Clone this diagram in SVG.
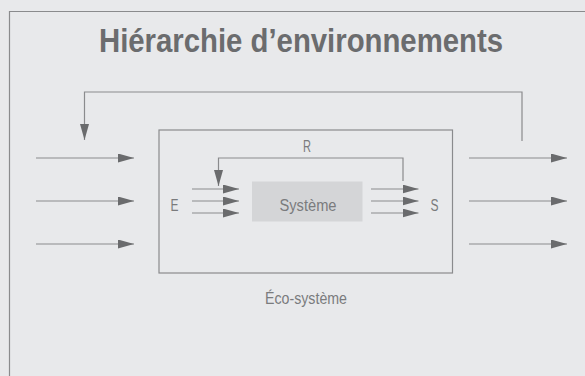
<svg xmlns="http://www.w3.org/2000/svg" width="585" height="376" viewBox="0 0 585 376">
  <style>
    .ln { fill: none; stroke: #8a8b8d; stroke-width: 1.2; }
    .arr { marker-end: url(#ah); }
    .lbl { font-family: "Liberation Sans", Arial, sans-serif; fill: #7a7b7d; font-size: 16px; }
    .title { font-family: "Liberation Sans", Arial, sans-serif; font-weight: bold; fill: #6b6c6e; font-size: 32.5px; }
  </style>
  <defs>
    <marker id="ah" markerUnits="userSpaceOnUse" markerWidth="17" markerHeight="10" refX="16" refY="4.5" orient="auto">
      <path d="M0,0 L16,4.5 L0,9 z" fill="#6a6b6d"/>
    </marker>
  </defs>
  <rect x="0" y="0" width="585" height="376" fill="#e8e9eb"/>
  <path class="ln" d="M9.5,376 V11.5 H585"/>
  <text class="title" x="99" y="51.5" textLength="404" lengthAdjust="spacingAndGlyphs">Hiérarchie d’environnements</text>

  <g id="ecosysteme">
    <rect x="159" y="130" width="293.5" height="143" class="ln"/>
    <text class="lbl" x="265" y="303.5" textLength="82" lengthAdjust="spacingAndGlyphs">Éco-système</text>
  </g>
  <g id="systeme">
    <rect x="252" y="181.5" width="110.5" height="40" fill="#d4d5d7"/>
    <text class="lbl" x="279.5" y="211" textLength="57" lengthAdjust="spacingAndGlyphs">Système</text>
  </g>
  <g id="labels">
    <text class="lbl" x="170.5" y="211" textLength="8" lengthAdjust="spacingAndGlyphs">E</text>
    <text class="lbl" x="430.5" y="211" textLength="8" lengthAdjust="spacingAndGlyphs">S</text>
    <text class="lbl" x="303" y="152" textLength="8" lengthAdjust="spacingAndGlyphs">R</text>
  </g>

  <g id="connectors">
    <path class="ln arr" d="M522,141 V92 H84.5 V140"/>
    <path class="ln arr" d="M36,158 H134"/>
    <path class="ln arr" d="M36,201 H134"/>
    <path class="ln arr" d="M36,244 H134"/>
    <path class="ln arr" d="M469,158 H567"/>
    <path class="ln arr" d="M469,201 H567"/>
    <path class="ln arr" d="M469,244 H567"/>
    <path class="ln arr" d="M403,181 V158 H218.5 V186"/>
    <path class="ln arr" d="M192,189 H239"/>
    <path class="ln arr" d="M192,201 H239"/>
    <path class="ln arr" d="M192,213 H239"/>
    <path class="ln arr" d="M371,189 H418.5"/>
    <path class="ln arr" d="M371,201 H418.5"/>
    <path class="ln arr" d="M371,213 H418.5"/>
  </g>
</svg>
